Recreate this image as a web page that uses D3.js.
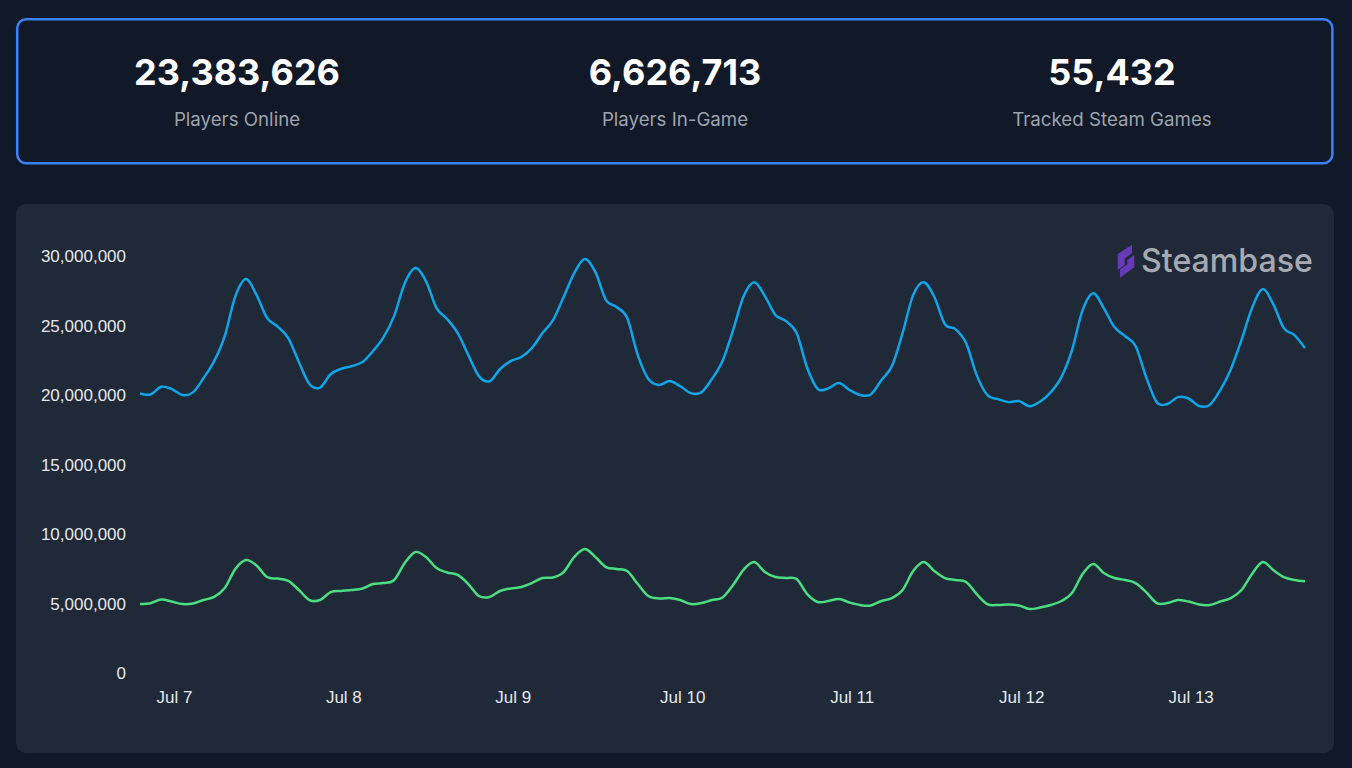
<!DOCTYPE html>
<html>
<head>
<meta charset="utf-8">
<script src="https://cdnjs.cloudflare.com/ajax/libs/d3/7.8.5/d3.min.js"></script>
<style>
  html, body { margin: 0; padding: 0; background: #111827; overflow: hidden; }
  svg { display: block; }
  .tick text { font-family: "Liberation Sans", sans-serif; font-size: 17px; fill: #e5e7eb; }
</style>
</head>
<body>
<svg id="chart" width="1352" height="768"></svg>
<script>
// stats across the top
const statValues = ['23,383,626', '6,626,713', '55,432'];
const statLabels = ['Players Online', 'Players In-Game', 'Tracked Steam Games'];

// one reading every 90 minutes, millions of players
const startTime = '2025-07-06T19:12:00Z';
const stepMinutes = 90;
const playersOnline = [
  20.12, 20.05, 20.60, 20.44, 20.01, 20.20, 21.23, 22.45, 24.25, 27.10, 28.34, 27.20, 25.54, 24.93, 24.10, 22.38,
  20.80, 20.55, 21.50, 21.90, 22.09, 22.38, 23.17, 24.17, 25.70, 28.05, 29.13, 28.20, 26.26, 25.47, 24.46, 22.88,
  21.37, 21.00, 21.88, 22.45, 22.74, 23.38, 24.46, 25.40, 27.05, 28.77, 29.78, 28.84, 26.83, 26.33, 25.54, 22.88,
  21.16, 20.73, 21.01, 20.65, 20.15, 20.20, 21.16, 22.45, 24.68, 27.12, 28.12, 27.12, 25.75, 25.32, 24.46, 21.95,
  20.44, 20.50, 20.87, 20.37, 20.01, 20.05, 21.08, 22.09, 24.46, 27.19, 28.12, 27.05, 25.10, 24.75, 23.74, 21.44,
  20.01, 19.72, 19.50, 19.58, 19.20, 19.54, 20.22, 21.30, 23.24, 26.11, 27.33, 26.26, 24.89, 24.25, 23.53, 21.30,
  19.50, 19.36, 19.86, 19.76, 19.22, 19.30, 20.37, 21.87, 23.96, 26.26, 27.62, 26.54, 24.82, 24.32, 23.38
];
const playersInGame = [
  4.99, 5.05, 5.32, 5.17, 4.99, 5.03, 5.28, 5.50, 6.14, 7.51, 8.15, 7.76, 6.93, 6.82, 6.65, 6.00,
  5.28, 5.28, 5.85, 5.93, 6.00, 6.11, 6.43, 6.50, 6.72, 7.94, 8.73, 8.37, 7.58, 7.26, 7.08, 6.43,
  5.57, 5.50, 5.93, 6.11, 6.21, 6.50, 6.86, 6.90, 7.29, 8.37, 8.94, 8.37, 7.65, 7.51, 7.36, 6.43,
  5.57, 5.39, 5.42, 5.28, 4.99, 5.06, 5.28, 5.46, 6.36, 7.47, 8.01, 7.29, 6.93, 6.86, 6.79, 5.71,
  5.14, 5.21, 5.35, 5.10, 4.92, 4.89, 5.21, 5.42, 6.00, 7.36, 8.01, 7.36, 6.86, 6.72, 6.57, 5.71,
  4.99, 4.92, 4.96, 4.89, 4.63, 4.74, 4.92, 5.21, 5.78, 7.15, 7.87, 7.22, 6.86, 6.72, 6.50, 5.85,
  5.06, 5.06, 5.28, 5.17, 4.96, 4.92, 5.17, 5.42, 6.00, 7.15, 8.01, 7.44, 6.93, 6.72, 6.63
];
const yTicks = [0, 5000000, 10000000, 15000000, 20000000, 25000000, 30000000];

const svg = d3.select('#chart');

// stats box
svg.append('rect')
  .attr('x', 17.2).attr('y', 19.2).attr('width', 1315.2).attr('height', 144)
  .attr('rx', 9).attr('fill', '#111827').attr('stroke', '#3b82f6').attr('stroke-width', 2.5);

const statX = [237, 675, 1112];
statValues.forEach((v, i) => {
  svg.append('text')
    .attr('x', statX[i]).attr('y', 85)
    .attr('text-anchor', 'middle')
    .style('font-family', 'Inter, sans-serif').style('font-size', '36px').style('font-weight', 700)
    .attr('fill', '#ffffff')
    .text(v);
  svg.append('text')
    .attr('x', statX[i]).attr('y', 125.5)
    .attr('text-anchor', 'middle')
    .style('font-family', 'Inter, sans-serif').style('font-size', '18.7px')
    .attr('fill', '#9ca3af')
    .text(statLabels[i]);
});

// chart card
svg.append('rect')
  .attr('x', 16).attr('y', 204).attr('width', 1318).attr('height', 549)
  .attr('rx', 10).attr('fill', '#1f2937');

// logo
const logo = svg.append('g');
logo.append('path')
  .attr('d', 'M1117.7 254L1132 244.7V253.3L1124.7 258.3V265L1117.7 270Z')
  .attr('fill', '#673ab7');
logo.append('path')
  .attr('d', 'M1134.3 255V267.3L1120 277.7V269.3L1127.3 264.3V260Z')
  .attr('fill', '#673ab7');
logo.append('text')
  .attr('x', 1141).attr('y', 271.5)
  .attr('textLength', 172).attr('lengthAdjust', 'spacingAndGlyphs')
  .style('font-family', 'Inter, sans-serif').style('font-size', '33px').style('font-weight', 500)
  .attr('fill', '#a6a9b1')
  .text('Steambase');

// scales
const times = playersOnline.map((d, i) => d3.utcMinute.offset(new Date(startTime), i * stepMinutes));
const x = d3.scaleUtc().domain(d3.extent(times)).range([140, 1305]);
const y = d3.scaleLinear().domain([0, 30000000]).range([673.5, 256]);

const yAxis = d3.axisLeft(y).tickValues(yTicks).tickSize(0).tickPadding(0).tickFormat(d3.format(','));
const xAxis = d3.axisBottom(x).ticks(d3.utcDay.every(1)).tickSize(0).tickPadding(0).tickFormat(d3.utcFormat('%b %-d'));

svg.append('g').attr('transform', 'translate(126,0)').call(yAxis).call(g => g.select('.domain').remove());
svg.append('g').attr('transform', 'translate(0,690.5)').call(xAxis).call(g => g.select('.domain').remove());

// lines
const line = d3.line()
  .x((d, i) => x(times[i]))
  .y(d => y(d * 1e6))
  .curve(d3.curveCatmullRom.alpha(0));

svg.append('path').datum(playersOnline)
  .attr('d', line).attr('fill', 'none').attr('stroke', '#0ea5e9').attr('stroke-width', 2.5);
svg.append('path').datum(playersInGame)
  .attr('d', line).attr('fill', 'none').attr('stroke', '#4ade80').attr('stroke-width', 2.5);
</script>
</body>
</html>
